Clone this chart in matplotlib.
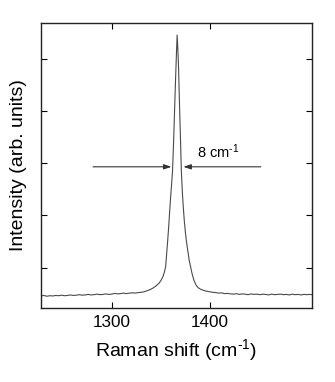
import matplotlib
matplotlib.use("Agg")
import matplotlib.pyplot as plt

plt.rcParams['font.family'] = ['Liberation Sans', 'DejaVu Sans']
plt.rcParams['mathtext.fontset'] = 'custom'
plt.rcParams['mathtext.rm'] = 'Liberation Sans'
plt.rcParams['mathtext.it'] = 'Liberation Sans:italic'

shift = [1228, 1231, 1234, 1237, 1240, 1243, 1246, 1249, 1252, 1255,
         1258, 1261, 1264, 1267, 1270, 1273, 1276, 1279, 1282, 1285,
         1288, 1291, 1294, 1297, 1300, 1303, 1306, 1309, 1312, 1315,
         1318, 1321, 1324, 1327, 1330, 1333, 1336, 1339, 1342, 1345,
         1348, 1350, 1352, 1353.5, 1355, 1356, 1357, 1358, 1359, 1360,
         1361, 1362, 1363, 1364, 1365, 1366, 1366.7, 1367.5, 1368.2, 1369,
         1370, 1371, 1372, 1373, 1374, 1375, 1376, 1377, 1378, 1379,
         1380.4, 1382, 1384, 1386, 1388, 1391, 1394, 1397, 1400, 1403,
         1406, 1409, 1412, 1415, 1418, 1421, 1424, 1427, 1430, 1433,
         1436, 1439, 1442, 1445, 1448, 1451, 1454, 1457, 1460, 1463,
         1466, 1469, 1472, 1475, 1478, 1481, 1484, 1487, 1490, 1493,
         1496, 1499, 1502, 1504]
intensity = [0.46, 0.47, 0.455, 0.465, 0.46, 0.47, 0.465, 0.475, 0.465, 0.47,
             0.48, 0.47, 0.475, 0.485, 0.475, 0.48, 0.49, 0.48, 0.485, 0.495,
             0.485, 0.49, 0.50, 0.49, 0.495, 0.51, 0.50, 0.505, 0.515, 0.505,
             0.515, 0.52, 0.515, 0.525, 0.53, 0.54, 0.56, 0.58, 0.61, 0.65,
             0.70, 0.75, 0.82, 0.90, 1.02, 1.26, 1.50, 1.76, 2.05, 2.33,
             2.58, 2.85, 3.35, 3.95, 4.55, 5.10, 5.45, 5.15, 4.80, 4.20,
             3.55, 2.85, 2.45, 2.15, 1.90, 1.70, 1.53, 1.40, 1.27, 1.14,
             1.02, 0.88, 0.75, 0.67, 0.62, 0.585, 0.565, 0.55, 0.54, 0.53,
             0.525, 0.515, 0.52, 0.505, 0.51, 0.50, 0.495, 0.505, 0.49, 0.50,
             0.495, 0.485, 0.50, 0.49, 0.495, 0.485, 0.495, 0.49, 0.48, 0.495,
             0.485, 0.49, 0.495, 0.485, 0.49, 0.48, 0.495, 0.485, 0.49, 0.48,
             0.49, 0.485, 0.49, 0.485]

# FWHM marker
fwhm_level = 2.93
left_arrow = (1281, 1361)
right_arrow = (1452, 1373)
fwhm_label = r"8 cm$^{\text{-1}}$"

fig = plt.figure(figsize=(3.35, 3.82), dpi=100)
ax = fig.add_axes([0.1224, 0.1937, 0.8086, 0.7461])

ax.plot(shift, intensity, color='#4a4a4a', lw=0.8)

arrow = dict(arrowstyle='-|>,head_length=0.45,head_width=0.15',
             color='#333333', lw=0.8, shrinkA=0, shrinkB=0)
ax.annotate('', xy=(left_arrow[1], fwhm_level), xytext=(left_arrow[0], fwhm_level),
            arrowprops=arrow)
ax.annotate('', xy=(right_arrow[1], fwhm_level), xytext=(right_arrow[0], fwhm_level),
            arrowprops=arrow)
ax.text(1387, 3.22, fwhm_label, fontsize=10.5, va='center', ha='left')

ax.set_xlim(1228, 1504)
ax.set_ylim(0.23, 5.68)
ax.set_xticks([1300, 1400])
ax.set_yticks([1, 2, 3, 4, 5])
ax.set_yticklabels([])
ax.tick_params(direction='in', length=4, width=0.8, top=True, right=True,
               labelsize=12.3, pad=5)
for s in ax.spines.values():
    s.set_linewidth(1.0)
    s.set_color('#222222')

ax.set_xlabel(r"Raman shift (cm$^{\text{-1}}$)", fontsize=14, labelpad=5)
ax.set_ylabel("Intensity (arb. units)", fontsize=14, labelpad=5)

fig.savefig("out.png", dpi=100)
